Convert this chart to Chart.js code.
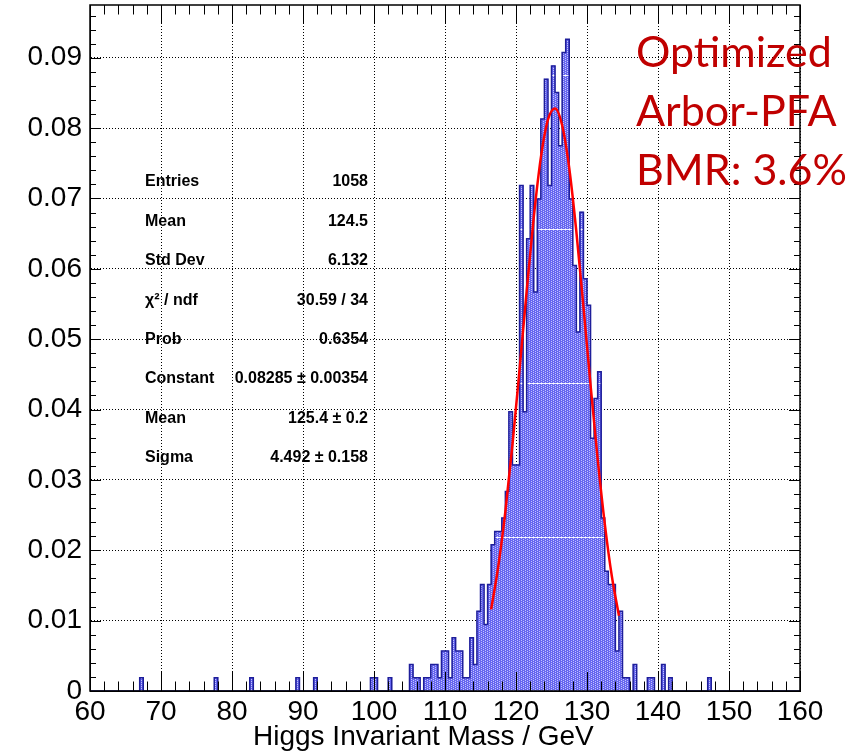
<!DOCTYPE html>
<html>
<head>
<meta charset="utf-8">
<script src="https://cdn.jsdelivr.net/npm/chart.js@4.4.1/dist/chart.umd.min.js"></script>
<style>
  html, body { margin: 0; padding: 0; background: #fff; }
  canvas { display: block; }
</style>
</head>
<body>
<canvas id="chart" width="853" height="752"></canvas>
<script>
// 0.5 GeV bins from 60 to 160, entries per bin
const binStart = 60;
const binWidth = 0.5;
const nEntries = 1058;
const binCounts = [
  0, 0, 0, 0, 0, 0, 0, 0, 0, 0,         // 60
  0, 0, 0, 0, 1, 0, 0, 0, 0, 0,         // 65
  0, 0, 0, 0, 0, 0, 0, 0, 0, 0,         // 70
  0, 0, 0, 0, 0, 1, 0, 0, 0, 0,         // 75
  0, 0, 0, 0, 0, 1, 0, 0, 0, 0,         // 80
  0, 0, 0, 0, 0, 0, 0, 0, 1, 0,         // 85
  0, 0, 0, 1, 0, 0, 0, 0, 0, 0,         // 90
  0, 0, 0, 0, 0, 0, 0, 0, 0, 1,         // 95
  1, 0, 0, 0, 1, 0, 0, 0, 0, 0,         // 100
  2, 1, 1, 0, 1, 1, 2, 2, 1, 3,         // 105
  3, 1, 4, 3, 3, 1, 1, 4, 2, 6,         // 110
  8, 5, 8, 11, 12, 12, 13, 15, 21, 17,  // 115
  17, 38, 21, 34, 38, 30, 37, 43, 46, 38, // 120
  47, 45, 41, 48, 49, 37, 32, 27, 36, 31, // 125
  29, 19, 22, 24, 13, 9, 8, 8, 3, 6,    // 130
  1, 1, 0, 2, 0, 0, 0, 1, 1, 0,         // 135
  0, 2, 0, 1, 0, 0, 0, 0, 0, 0,         // 140
  0, 0, 0, 0, 1, 0, 0, 0, 0, 0,         // 145
  0, 0, 0, 0, 0, 0, 0, 0, 0, 0,         // 150
  0, 0, 0, 0, 0, 0, 0, 0, 0, 0          // 155
];

// gaussian fit curve
const fitX = [116.5, 117.5, 118.5, 119.5, 120.5, 121.5, 122.5, 123.5, 124.5, 125.5,
              126.5, 127.5, 128.5, 129.5, 130.5, 131.5, 132.5, 133.5, 134.5];
const fitY = [0.0116, 0.0177, 0.0255, 0.0350, 0.0457, 0.0568, 0.0673, 0.0758, 0.0812, 0.0828,
              0.0804, 0.0743, 0.0653, 0.0546, 0.0435, 0.0330, 0.0238, 0.0163, 0.0107];

const statLabels = ['Entries', 'Mean', 'Std Dev', 'χ² / ndf', 'Prob', 'Constant', 'Mean', 'Sigma'];
const statValues = ['1058', '124.5', '6.132', '30.59 / 34', '0.6354', '0.08285 ± 0.00354', '125.4 ± 0.2', '4.492 ± 0.158'];
const noteLines = ['Optimized', 'Arbor-PFA', 'BMR: 3.6%'];
const xTitle = 'Higgs Invariant Mass / GeV';

const ctx = document.getElementById('chart').getContext('2d');

// ROOT-ish dotted blue fill
function histPattern() {
  const c = document.createElement('canvas');
  c.width = 4;
  c.height = 154;
  const g = c.getContext('2d');
  g.fillStyle = '#6666f0';
  g.fillRect(0, 0, 4, 154);
  g.fillStyle = '#c4c4fc';
  for (let r = 0; r < 154; r += 2) {
    g.fillRect(1, r, 1, 1);
    g.fillRect(3, r + 1, 1, 1);
  }
  g.fillStyle = '#f4f4ff';
  g.fillRect(0, 75, 4, 1);
  return g.createPattern(c, 'repeat');
}

const norm = 1 / (nEntries * binWidth);
const barData = [];
const outline = [];
binCounts.forEach((n, i) => {
  const lo = binStart + i * binWidth;
  outline.push({ x: lo, y: n * norm });
  if (n > 0) barData.push({ x: lo + binWidth / 2, y: n * norm });
});
outline.push({ x: binStart + binCounts.length * binWidth, y: 0 });

const fitData = fitX.map((x, i) => ({ x: x, y: fitY[i] }));

// frame, inner ticks and the texts
const rootFrame = {
  id: 'rootFrame',
  afterDraw(chart) {
    const { ctx, chartArea: a, scales: { x, y } } = chart;
    ctx.save();
    ctx.strokeStyle = '#000';
    ctx.lineWidth = 1;
    ctx.beginPath();
    for (let v = 60; v <= 160; v += 2) {
      const px = Math.round(x.getPixelForValue(v)) + 0.5;
      const len = v % 10 === 0 ? 19 : 9.5;
      ctx.moveTo(px, a.bottom);
      ctx.lineTo(px, a.bottom - len);
      ctx.moveTo(px, a.top);
      ctx.lineTo(px, a.top + len);
    }
    for (let k = 0; k <= 48; k++) {
      const py = Math.round(y.getPixelForValue(k * 0.002)) + 0.5;
      const len = k % 5 === 0 ? 11 : 6;
      ctx.moveTo(a.left, py);
      ctx.lineTo(a.left + len, py);
      ctx.moveTo(a.right, py);
      ctx.lineTo(a.right - len, py);
    }
    ctx.stroke();
    ctx.lineWidth = 1.5;
    ctx.strokeRect(a.left, a.top, a.right - a.left, a.bottom - a.top);

    // stats box
    ctx.fillStyle = '#000';
    ctx.font = 'bold 16px "Liberation Sans", Arial, sans-serif';
    ctx.textBaseline = 'middle';
    statLabels.forEach((s, i) => {
      const ty = 182 + i * 39.4;
      ctx.textAlign = 'left';
      ctx.fillText(s, 145, ty);
      ctx.textAlign = 'right';
      ctx.fillText(statValues[i], 368, ty);
    });

    // axis title
    ctx.font = '28px "Liberation Sans", Arial, sans-serif';
    ctx.textAlign = 'left';
    ctx.fillText(xTitle, 253, 737);

    // red annotation
    ctx.fillStyle = '#c00000';
    ctx.font = '43px Lato, "Open Sans", sans-serif';
    ctx.textBaseline = 'alphabetic';
    noteLines.forEach((s, i) => ctx.fillText(s, 636, 67 + i * 59));
    ctx.restore();
  }
};

const tickFont = { family: '"Liberation Sans", Arial, sans-serif', size: 28 };

new Chart(ctx, {
  type: 'bar',
  data: {
    datasets: [
      {
        type: 'line',
        data: fitData,
        borderColor: '#ff0000',
        borderWidth: 2.5,
        pointRadius: 0,
        cubicInterpolationMode: 'monotone',
        order: 0
      },
      {
        type: 'line',
        data: outline,
        stepped: true,
        borderColor: '#1e1e9a',
        borderWidth: 1.5,
        pointRadius: 0,
        order: 1
      },
      {
        type: 'bar',
        data: barData,
        backgroundColor: histPattern(),
        borderWidth: 0,
        barPercentage: 1,
        categoryPercentage: 1,
        order: 2
      }
    ]
  },
  options: {
    responsive: false,
    animation: false,
    layout: { padding: { top: 5, right: 53, left: 0, bottom: 0 } },
    plugins: { legend: { display: false }, tooltip: { enabled: false } },
    scales: {
      x: {
        type: 'linear',
        min: 60,
        max: 160,
        offset: false,
        z: 1,
        grid: { color: '#000', lineWidth: 1, drawTicks: false, offset: false },
        border: { color: '#000', width: 1, dash: [1, 2] },
        ticks: { stepSize: 10, autoSkip: false, maxRotation: 0, padding: 4, color: '#000', font: tickFont },
        afterFit: s => { s.height = 61; s.paddingLeft = 0; s.paddingRight = 0; }
      },
      y: {
        min: 0,
        max: 0.0975,
        z: 1,
        grid: { color: '#000', lineWidth: 1, drawTicks: false },
        border: { color: '#000', width: 1, dash: [1, 2] },
        ticks: {
          stepSize: 0.01,
          includeBounds: false,
          autoSkip: false,
          padding: 8,
          color: '#000',
          font: tickFont,
          callback: v => (v === 0 ? '0' : v.toFixed(2))
        },
        afterFit: s => { s.width = 90; s.paddingTop = 0; s.paddingBottom = 0; }
      }
    }
  },
  plugins: [rootFrame]
});
</script>
</body>
</html>
